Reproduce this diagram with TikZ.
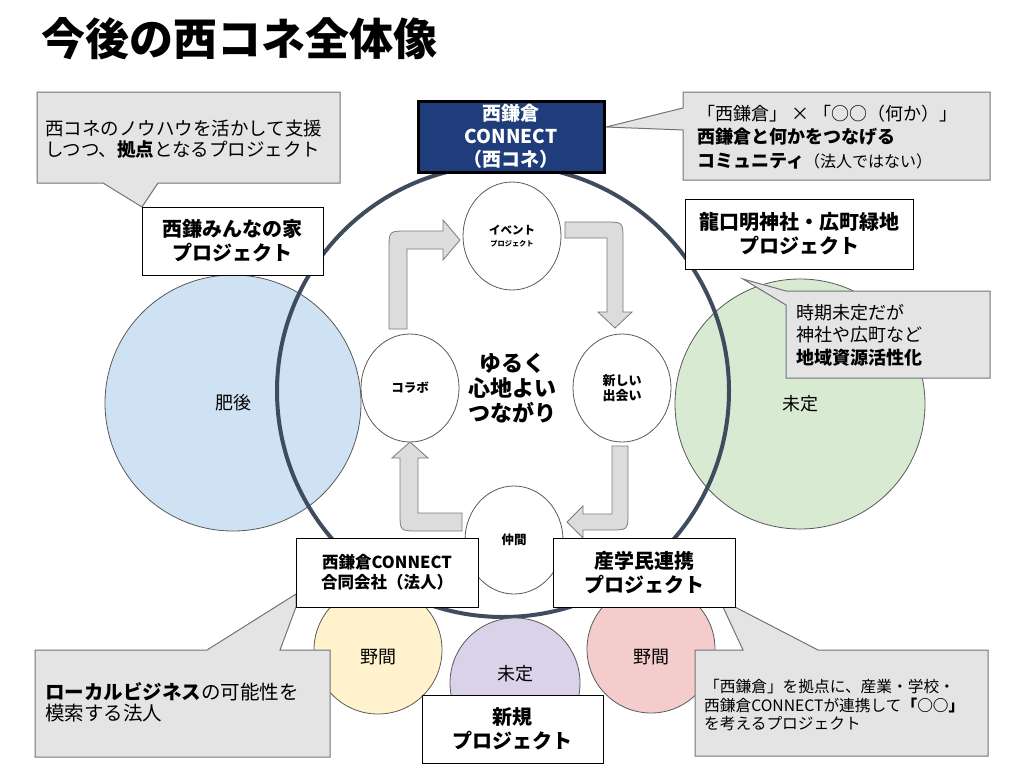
\documentclass[tikz,border=0pt]{standalone}
\usepackage{fontspec}
\setmainfont{Noto Sans CJK JP}
\usetikzlibrary{shapes.geometric}
\definecolor{slate}{HTML}{3E4C5E}
\definecolor{navy}{HTML}{1F3D7A}
\definecolor{higoblue}{HTML}{CFE2F3}
\definecolor{mgreen}{HTML}{D9EAD3}
\definecolor{myellow}{HTML}{FFF2CC}
\definecolor{mpurple}{HTML}{D9D2E9}
\definecolor{mpink}{HTML}{F4CCCC}
\definecolor{cgray}{HTML}{E4E4E4}
\definecolor{cline}{HTML}{6F747C}
\definecolor{agray}{HTML}{DCDCDC}
\definecolor{aline}{HTML}{7A7A7A}
\newcommand\fsz[2]{\fontsize{#1}{#2}\selectfont}
\begin{document}
\begin{tikzpicture}[x=1pt,y=-1pt,
  wbox/.style={draw=black, line width=1pt, fill=white, inner sep=0, align=center, font=\fsz{20}{24}\bfseries},
  callout/.style={draw=cline, line width=1pt, fill=cgray},
  ctext/.style={inner sep=0, align=left, anchor=west},
  colc/.style={circle, draw=gray!70!black, line width=0.8pt, inner sep=0, font=\fsz{18}{18}},
  inner/.style={ellipse, draw=gray!70!black, line width=0.8pt, fill=white, minimum width=98, minimum height=108, inner sep=0, align=center, font=\bfseries},
  barrow/.style={draw=aline, line width=0.8pt, fill=agray},
  lbl/.style={inner sep=0, font=\fsz{18}{18}}]
\useasboundingbox (0,0) rectangle (1024,768);

% title
\node[anchor=west, inner sep=0, font=\fsz{44}{44}\bfseries] (title) at (41,39) {今後の西コネ全体像};

% side circles
\node[colc, fill=higoblue, minimum size=256] (higo) at (233,403) {肥後};
\node[colc, fill=mgreen, minimum size=250] (green) at (800,404) {未定};

% big circle
\node[circle, draw=slate, line width=4pt, minimum size=452, inner sep=0] (big) at (503,391) {};

% lower circles
\node[colc, fill=myellow, minimum size=128] (yel) at (378,650) {};
\node[colc, fill=mpurple, minimum size=130] (pur) at (515,683) {};
\node[colc, fill=mpink, minimum size=128] (pnk) at (651,649) {};
\node[lbl] (yeltxt) at (378,657) {野間};
\node[lbl] (purtxt) at (515,674) {未定};
\node[lbl] (pnktxt) at (651,657) {野間};

% inner ellipses
\node[inner] (event) at (512,236) {{\fsz{11.5}{13}イベント}\\{\fsz{7.2}{8}プロジェクト}};
\node[inner, font=\fsz{12.5}{14}\bfseries] (collab) at (410,388) {コラボ};
\node[inner, font=\fsz{13}{15}\bfseries] (deai) at (622,388) {新しい\\出会い};
\node[inner, font=\fsz{12.5}{14}\bfseries] (nakama) at (514,540) {仲間};

% block arrows
\draw[barrow] (389,329) -- (389,249) .. controls (389,231) .. (407,231) -- (443,231) -- (443,220) -- (460,240) -- (443,260) -- (443,249) -- (407,249) -- (407,329) -- cycle;
\draw[barrow] (565,222) -- (605,222) .. controls (623,222) .. (623,240) -- (623,312) -- (632,312) -- (615,328) -- (598,312) -- (607,312) -- (607,238) -- (565,238) -- cycle;
\draw[barrow] (612,446) -- (628,446) -- (628,512) .. controls (628,530) .. (610,530) -- (583,530) -- (583,538) -- (567,522) -- (583,506) -- (583,514) -- (612,514) -- cycle;
\draw[barrow] (462,513) -- (462,531) -- (418,531) .. controls (400,531) .. (400,513) -- (400,458) -- (392,458) -- (410,442) -- (428,458) -- (418,458) -- (418,513) -- cycle;

% center text
\node[inner sep=0, align=center, font=\fsz{22}{25}\bfseries] (center) at (512,388) {ゆるく\\心地よい\\つながり};

% callouts
\draw[callout] (37,92) -- (340,92) -- (340,183) -- (158,183) -- (142,207) -- (103,183) -- (37,183) -- cycle;
\node[ctext, font=\fsz{18.5}{21}] (tltxt) at (45,139) {西コネのノウハウを活かして支援\\しつつ、\textbf{拠点}となるプロジェクト};

\draw[callout] (683,92) -- (990,92) -- (990,180) -- (683,180) -- (683,130) -- (606,127) -- (683,108) -- cycle;
\node[ctext, font=\fsz{18}{23.5}] (trtxt) at (697,137) {「西鎌倉」 × 「○○（何か）」\\\textbf{西鎌倉と何かをつなげる}\\\textbf{コミュニティ}{\fsz{16}{23.5}（法人ではない）}};

\draw[callout] (786,291) -- (990,291) -- (990,378) -- (786,378) -- (786,305) -- (743,279) -- cycle;
\node[ctext, font=\fsz{18}{22.5}] (rmtxt) at (796,335) {時期未定だが\\神社や広町など\\\textbf{地域資源活性化}};

\draw[callout] (35,650) -- (207,650) -- (296,594) -- (296,607) -- (280,650) -- (330,650) -- (330,757) -- (35,757) -- cycle;
\node[ctext, font=\fsz{19.5}{21}] (bltxt) at (45,702) {\textbf{ローカルビジネス}の可能性を\\模索する法人};

\draw[callout] (695,650) -- (743,650) -- (723,607) -- (735,607) -- (818,650) -- (988,650) -- (988,756) -- (695,756) -- cycle;
\node[ctext, font=\fsz{15.7}{18.5}] (brtxt) at (704,705) {「西鎌倉」を拠点に、産業・学校・\\西鎌倉CONNECTが連携して\textbf{「○○」}\\を考えるプロジェクト};

% boxes
\node[draw=black, line width=3pt, fill=navy, text=white, inner sep=0, align=center, minimum width=186, minimum height=71, font=\fsz{19}{23}\bfseries] (nishikone) at (511,136.5) {西鎌倉\\CONNECT\\（西コネ）};
\node[wbox, minimum width=181, minimum height=68] (minna) at (232.5,241) {西鎌みんなの家\\プロジェクト};
\node[wbox, minimum width=228, minimum height=70] (tatsu) at (799,234) {龍口明神社・広町緑地\\プロジェクト};
\node[wbox, minimum width=182, minimum height=69, font=\fsz{16.5}{20}\bfseries] (llc) at (387,572.5) {西鎌倉CONNECT\\合同会社（法人）};
\node[wbox, minimum width=182, minimum height=69] (sangaku) at (644,572.5) {産学民連携\\プロジェクト};
\node[wbox, minimum width=181, minimum height=68] (shinki) at (512.5,729) {新規\\プロジェクト};
\end{tikzpicture}
\end{document}
